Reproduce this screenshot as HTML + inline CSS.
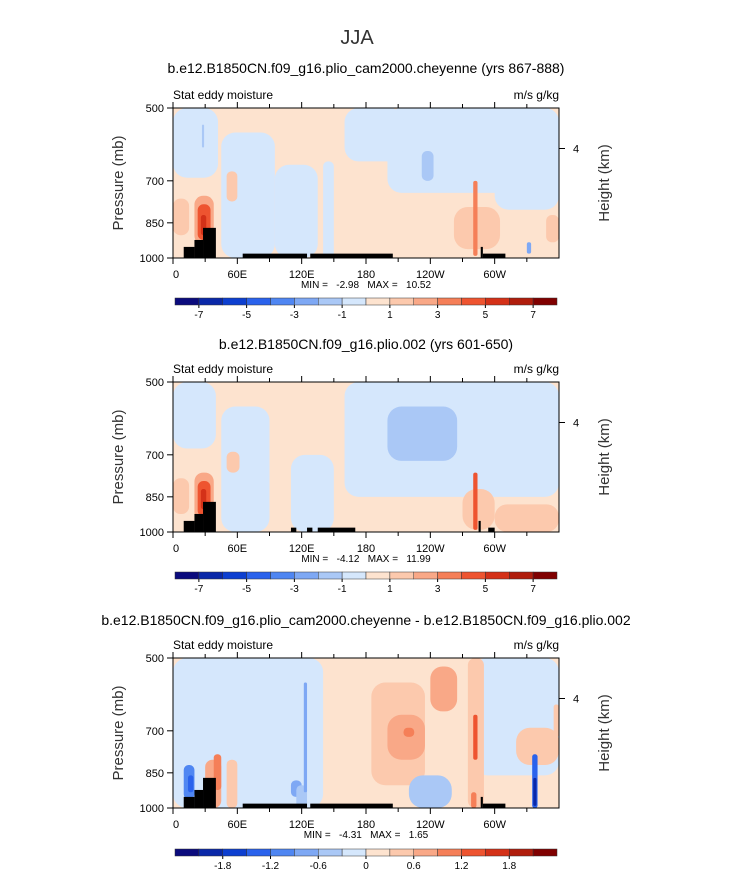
<!DOCTYPE html>
<html><head><meta charset="utf-8"><style>
body{margin:0;background:#fff}
svg{display:block;font-family:"Liberation Sans",sans-serif}
text{white-space:pre}
</style></head><body>
<svg id="c" width="733" height="888"></svg>
<script>
const palette=["#0b0b7d","#0a28a8","#0d3fd0","#2a62ec","#4f86f2","#7ea8f4","#aac8f6","#d5e7fc","#fde3cf","#fcc9ad","#f9a887","#f57f58","#ee5430","#d43118","#b01d0c","#800000"];
const cbLabels1=["-7","-5","-3","-1","1","3","5","7"];
const cbLabels3=["-1.8","-1.2","-0.6","0","0.6","1.2","1.8"];
const lonTicks=[0,60,120,180,240,300];
const lonTickLabels=["0","60E","120E","180","120W","60W"];
const presTicks=[500,700,850,1000];
// blobs: [lon0, lon1, p0, p1, level]
const blobs1=[[0,42,500,690,7],[45,95,560,1000,7],[95,135,650,1000,7],[140,150,640,1000,7],[200,360,500,740,7],[160,215,500,640,7],[300,360,500,800,7],[232,243,610,700,6],[0,15,760,900,9],[50,60,670,770,9],[20,38,750,940,10],[23,35,780,920,12],[26,31,820,900,13],[262,305,790,960,9],[280,284,700,990,11],[348,360,820,930,9],[330,334,930,980,5],[27,29,540,600,6]];
const blobs2=[[0,40,500,680,7],[45,90,560,1000,7],[160,360,500,850,7],[110,150,700,1000,7],[200,265,560,720,6],[0,15,780,920,9],[50,62,690,760,9],[20,38,760,950,10],[23,35,790,930,12],[26,31,820,900,13],[270,300,820,990,9],[280,284,760,990,12],[300,360,880,1000,9]];
const blobs3=[[0,140,500,1000,7],[280,360,500,860,7],[30,45,800,1000,10],[38,45,780,920,11],[10,20,820,960,4],[14,19,860,930,3],[50,60,800,1000,9],[110,120,880,950,5],[115,125,900,1000,6],[122,125,560,930,5],[185,235,560,900,9],[200,235,650,800,10],[215,225,690,720,11],[240,265,520,640,10],[245,262,540,620,10],[233,250,880,960,5],[220,260,860,1000,6],[275,290,500,1000,9],[280,284,650,800,12],[278,283,930,1000,11],[320,360,690,820,9],[335,340,780,1000,3],[336,339,870,990,1],[355,360,620,720,9]];
const terrainA=[[10,20,950],[20,28,920],[28,40,870],[65,125,980],[128,205,980],[287,289,950],[289,310,980]];
const terrainB=[[10,20,950],[20,28,920],[28,40,870],[110,115,980],[125,130,980],[135,170,980],[285,287,950],[294,300,980]];
const svg=document.getElementById('c');const NS="http://www.w3.org/2000/svg";
function mk(t,a,p){const e=document.createElementNS(NS,t);for(const k in a)e.setAttribute(k,a[k]);(p||svg).appendChild(e);return e}
function txt(s,x,y,size,anchor,p){const e=mk('text',{x:x,y:y,'font-size':size,'text-anchor':anchor||'start',fill:'#000'},p);e.textContent=s;return e}
const X0=173,X1=559,H=150;
function panel(top,blobs,terrain,cbY,cbLab,cbStart,minmax,name){
 const g=mk('g',{});
 const xs=l=>X0+(X1-X0)*l/360;const ys=p=>top+(Math.log(p)-Math.log(500))/Math.log(2)*H;
 const cid='clip'+top;const cp=mk('clipPath',{id:cid},g);mk('rect',{x:X0,y:top,width:X1-X0,height:H},cp);
 const f=mk('g',{'clip-path':'url(#'+cid+')'},g);
 mk('rect',{x:X0,y:top,width:X1-X0,height:H,fill:palette[8]},f);
 blobs.forEach(b=>{const x=xs(b[0]),w=xs(b[1])-x,y=ys(b[2]),h=ys(b[3])-y;
  const r=mk('rect',{x:x,y:y,width:w,height:h,rx:Math.min(Math.min(w,h)/2.2,14),fill:palette[b[4]]},f);
  });
 terrain.forEach(t=>{const r=mk('rect',{x:xs(t[0]),y:ys(t[2]),width:xs(t[1])-xs(t[0]),height:top+H-ys(t[2])+1,fill:'#000'},f);
  });
 mk('rect',{x:X0,y:top,width:X1-X0,height:H,fill:'none',stroke:'#000','stroke-width':1},g);
 for(let l=0;l<=330;l+=30){const x=xs(l),big=l%60==0;
  mk('line',{x1:x,y1:top+H,x2:x,y2:top+H+(big?6:4),stroke:'#000'},g);
  mk('line',{x1:x,y1:top,x2:x,y2:top-(big?6:4),stroke:'#000'},g);}
 lonTicks.forEach((l,i)=>{const t=txt(lonTickLabels[i],xs(l)+(i==0?3:0),top+H+20,11,'middle',g);});
 presTicks.forEach(p=>{mk('line',{x1:X0-6,y1:ys(p),x2:X0,y2:ys(p),stroke:'#000'},g);const t=txt(String(p),X0-9,ys(p)+4,11,'end',g);});
 const y4=top+H*0.27;mk('line',{x1:X1,y1:y4,x2:X1+6,y2:y4,stroke:'#000'},g);txt('4',X1+14,y4+4,11,'start',g);
 const yt=txt('Pressure (mb)',0,0,15,'middle',g);yt.setAttribute('transform',`translate(${X0-50},${top+H/2}) rotate(-90)`);yt.setAttribute('fill','#333');
 
 const ht=txt('Height (km)',0,0,15,'middle',g);ht.setAttribute('transform',`translate(${X1+50},${top+H/2}) rotate(-90)`);ht.setAttribute('fill','#333');
 
 txt('Stat eddy moisture',X0,top-9,12,'start',g);txt('m/s g/kg',X1,top-9,12,'end',g);
 txt(minmax,366,top+H+30,10,'middle',g);
 const bw=(557-175)/16;
 palette.forEach((c,i)=>{const r=mk('rect',{x:175+i*bw,y:cbY,width:bw,height:7,fill:c,stroke:'#333','stroke-width':0.5},g);});
 cbLab.forEach((s,i)=>{const b=cbStart+i*2;const x=175+b*bw;mk('line',{x1:x,y1:cbY+7,x2:x,y2:cbY+10,stroke:'#000'},g);txt(s,x,cbY+20,10,'middle',g);});
}
txt('JJA',357,44,20,'middle').setAttribute('fill','#333');
txt('b.e12.B1850CN.f09_g16.plio_cam2000.cheyenne (yrs 867-888)',366,73,14,'middle');
txt('b.e12.B1850CN.f09_g16.plio.002 (yrs 601-650)',366,349,14,'middle');
txt('b.e12.B1850CN.f09_g16.plio_cam2000.cheyenne - b.e12.B1850CN.f09_g16.plio.002',366,625,14,'middle');
panel(108,blobs1,terrainA,298,cbLabels1,1,'MIN =   -2.98   MAX =   10.52','panel-cam2000');
panel(382,blobs2,terrainB,572,cbLabels1,1,'MIN =   -4.12   MAX =   11.99','panel-plio002');
panel(658,blobs3,terrainA,849,cbLabels3,2,'MIN =   -4.31   MAX =   1.65','panel-difference');
</script>
</body></html>
